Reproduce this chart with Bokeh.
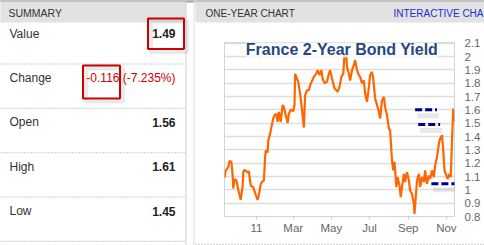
import pandas as pd
from bokeh.plotting import figure
from bokeh.layouts import row, column
from bokeh.models import (Range1d, FixedTicker, NumeralTickFormatter, Label,
                          Arrow, ColumnDataSource)
from bokeh.core.properties import value
from bokeh.embed import file_html
from bokeh.resources import INLINE

FONT = "Liberation Sans"
GF = value(FONT)

# ---------------- data ----------------
summary_labels = ["Value", "Change", "Open", "High", "Low"]
summary_values = ["1.49", "-0.116 (-7.235%)", "1.56", "1.61", "1.45"]
summary_colors = ["#222222", "#cc0000", "#222222", "#222222", "#222222"]
summary_weight = ["bold", "normal", "bold", "bold", "bold"]

dates = [
    "2010-11-11", "2010-11-13", "2010-11-17", "2010-11-19", "2010-11-22", "2010-11-24",
    "2010-11-25", "2010-11-27", "2010-11-30", "2010-12-03", "2010-12-07", "2010-12-10",
    "2010-12-11", "2010-12-13", "2010-12-18", "2010-12-20", "2010-12-23", "2010-12-27",
    "2010-12-30", "2011-01-03", "2011-01-05", "2011-01-08", "2011-01-11", "2011-01-13",
    "2011-01-15", "2011-01-16", "2011-01-19", "2011-01-20", "2011-01-23", "2011-01-25",
    "2011-01-28", "2011-01-30", "2011-02-02", "2011-02-04", "2011-02-06", "2011-02-09",
    "2011-02-12", "2011-02-14", "2011-02-17", "2011-02-20", "2011-02-22", "2011-02-25",
    "2011-03-01", "2011-03-03", "2011-03-04", "2011-03-09", "2011-03-12", "2011-03-15",
    "2011-03-18", "2011-03-20", "2011-03-23", "2011-03-26", "2011-03-28", "2011-04-03",
    "2011-04-07", "2011-04-09", "2011-04-12", "2011-04-15", "2011-04-17", "2011-04-20",
    "2011-04-24", "2011-04-27", "2011-04-29", "2011-05-02", "2011-05-06", "2011-05-09",
    "2011-05-11", "2011-05-14", "2011-05-17", "2011-05-20", "2011-05-22", "2011-05-25",
    "2011-05-26", "2011-05-29", "2011-05-31", "2011-06-03", "2011-06-06", "2011-06-08",
    "2011-06-11", "2011-06-14", "2011-06-16", "2011-06-19", "2011-06-22", "2011-06-24",
    "2011-06-27", "2011-06-30", "2011-07-02", "2011-07-05", "2011-07-07", "2011-07-10",
    "2011-07-13", "2011-07-16", "2011-07-18", "2011-07-21", "2011-07-24", "2011-07-26",
    "2011-07-29", "2011-08-01", "2011-08-03", "2011-08-06", "2011-08-08", "2011-08-10",
    "2011-08-13", "2011-08-15", "2011-08-18", "2011-08-20", "2011-08-22", "2011-08-25",
    "2011-08-27", "2011-08-30", "2011-09-02", "2011-09-04", "2011-09-07", "2011-09-10",
    "2011-09-11", "2011-09-13", "2011-09-15", "2011-09-18", "2011-09-20", "2011-09-23",
    "2011-09-26", "2011-09-28", "2011-10-01", "2011-10-04", "2011-10-06", "2011-10-09",
    "2011-10-12", "2011-10-14", "2011-10-17", "2011-10-20", "2011-10-22", "2011-10-25",
    "2011-10-27", "2011-10-29", "2011-11-01", "2011-11-03", "2011-11-06", "2011-11-08",
    "2011-11-10", "2011-11-12", "2011-11-13",
]
yields = [
    1.09, 1.146, 1.17, 1.216, 1.21, 1.11,
    1.01, 1.08, 1.07, 1.00, 0.925, 1.03,
    1.13, 1.15, 1.13, 1.14, 1.03, 1.02,
    0.975, 0.925, 0.96, 1.045, 1.065, 1.07,
    1.245, 1.296, 1.28, 1.37, 1.42, 1.47,
    1.535, 1.56, 1.57, 1.51, 1.585, 1.51,
    1.635, 1.62, 1.56, 1.50, 1.57, 1.60,
    1.59, 1.635, 1.87, 1.81, 1.72, 1.60,
    1.467, 1.71, 1.747, 1.747, 1.785, 1.847,
    1.873, 1.897, 1.86, 1.897, 1.835, 1.80,
    1.81, 1.87, 1.897, 1.835, 1.76, 1.747,
    1.735, 1.772, 1.847, 1.87, 2.01, 1.998,
    1.92, 1.87, 1.82, 1.897, 1.935, 1.973,
    1.897, 1.86, 1.847, 1.80, 1.82, 1.72,
    1.66, 1.77, 1.86, 1.885, 1.835, 1.685,
    1.635, 1.585, 1.535, 1.672, 1.697, 1.62,
    1.56, 1.46, 1.447, 1.22, 1.146, 1.21,
    1.02, 1.095, 1.033, 0.945, 1.02, 1.12,
    1.058, 1.133, 1.07, 0.995, 0.97, 0.895,
    0.82, 0.945, 1.07, 1.12, 1.02, 1.095,
    1.058, 1.146, 1.045, 1.108, 1.083, 1.146,
    1.095, 1.183, 1.246, 1.347, 1.384, 1.41,
    1.296, 1.146, 1.108, 1.083, 1.12, 1.095,
    1.37, 1.61, 1.51,
]

x_tick_dates = ["2011-01-01", "2011-03-01", "2011-05-01", "2011-07-01", "2011-09-01", "2011-11-01"]
x_tick_labels = ["11", "Mar", "May", "Jul", "Sep", "Nov"]
y_ticks = [0.8, 0.9, 1.0, 1.1, 1.2, 1.3, 1.4, 1.5, 1.6, 1.7, 1.8, 1.9, 2.0, 2.1]

marker_levels = [1.60, 1.49, 1.045]
marker_starts = ["2011-09-12", "2011-09-17", "2011-10-08"]
marker_ends = ["2011-10-17", "2011-10-22", "2011-12-09"]

chart_title = "France 2-Year Bond Yield"


def ms(s):
    return pd.Timestamp(s).value / 1e6


# ---------------- left summary panel ----------------
left = figure(width=195, height=245, x_range=Range1d(0, 195), y_range=Range1d(245, 0),
              toolbar_location=None, output_backend="svg", x_axis_type=None,
              y_axis_type=None, min_border=0, outline_line_color=None,
              background_fill_color="white", border_fill_color="white",
              frame_align=False)
left.grid.visible = False

left.quad(left=[0], right=[195], top=[0], bottom=[1.5], color="#a0a0a0")
left.quad(left=[0], right=[185], top=[1.5], bottom=[21.5], color="#e2e2e2")
left.segment(x0=[185.5, 193.5], y0=[0, 0], x1=[185.5, 193.5], y1=[245, 245],
             line_color=["#d0d0d0", "#dddddd"], line_width=1)
left.text(x=[8], y=[12.5], text=["SUMMARY"], text_font=GF, text_font_size="10.5px",
          text_color="#333333", text_baseline="middle")

row_lines = [63.5, 107.8, 152.2, 196.5, 240.8]
left.segment(x0=[0] * 5, y0=row_lines, x1=[184] * 5, y1=row_lines,
             line_color="#9a9a9a", line_dash="1 2", line_width=1)
text_y = [r - 30.3 for r in row_lines]
left.text(x=[9] * 5, y=text_y, text=summary_labels, text_font=GF, text_font_size="12px",
          text_color="#333333", text_baseline="middle")
vsrc = ColumnDataSource(dict(x=[175] * 5, y=text_y, t=summary_values, c=summary_colors,
                             w=summary_weight))
left.text(x="x", y="y", text="t", source=vsrc, text_font=GF, text_font_size="12px",
          text_color="c", text_font_style="w", text_align="right", text_baseline="middle")

# red highlight boxes with soft shadow
for (l, r, t, b) in [(147.5, 183.5, 18, 48.5), (82.5, 119.5, 65, 98)]:
    left.quad(left=[l + 3], right=[r + 3], top=[t + 3], bottom=[b + 3], fill_color=None,
              line_color="#888888", line_alpha=0.18, line_width=4)
    left.quad(left=[l], right=[r], top=[t], bottom=[b], fill_color=None,
              line_color="#cc0000", line_width=2)

# ---------------- right header ----------------
head = figure(width=289, height=34, x_range=Range1d(0, 289), y_range=Range1d(34, 0),
              toolbar_location=None, output_backend="svg", x_axis_type=None,
              y_axis_type=None, min_border=0, outline_line_color=None,
              border_fill_color="white", frame_align=False)
head.grid.visible = False
head.quad(left=[0], right=[289], top=[0], bottom=[1.5], color="#a0a0a0")
head.quad(left=[0], right=[289], top=[1.5], bottom=[21.5], color="#e2e2e2")
head.text(x=[10], y=[12.5], text=["ONE-YEAR CHART"], text_font=GF, text_font_size="10px",
          text_color="#333333", text_baseline="middle")
head.text(x=[198], y=[12.5], text=["INTERACTIVE CHART"], text_font=GF, text_font_size="10px",
          text_color="#1a2fd0", text_baseline="middle")

# ---------------- chart ----------------
chart = figure(width=289, height=202, x_axis_type="datetime", y_axis_location="right",
               x_range=Range1d(ms("2010-11-11"), ms("2011-11-14")),
               y_range=Range1d(0.8, 2.105),
               toolbar_location=None, output_backend="svg",
               min_border_left=29, min_border_right=30, min_border_top=8,
               min_border_bottom=20, outline_line_color="#d4d4d4",
               border_fill_color="white", frame_align=False)
chart.xgrid.visible = False
chart.ygrid.grid_line_color = "#dddddd"
chart.ygrid.grid_line_width = 1.3

chart.yaxis.ticker = FixedTicker(ticks=y_ticks)
chart.yaxis.formatter = NumeralTickFormatter(format="0.[0]")
chart.yaxis.axis_line_color = None
chart.yaxis.major_tick_line_color = None
chart.yaxis.minor_tick_line_color = None
chart.yaxis.major_label_standoff = 4
chart.yaxis.major_label_text_font = FONT
chart.yaxis.major_label_text_font_size = "11.5px"
chart.yaxis.major_label_text_color = "#666666"

xt = [ms(d) for d in x_tick_dates]
chart.xaxis.ticker = FixedTicker(ticks=xt)
chart.xaxis.major_label_overrides = {t: lab for t, lab in zip(xt, x_tick_labels)}
chart.xaxis.axis_line_color = "#d4d4d4"
chart.xaxis.major_tick_line_color = "#cccccc"
chart.xaxis.major_tick_in = 0
chart.xaxis.major_tick_out = 3
chart.xaxis.minor_tick_line_color = None
chart.xaxis.major_label_standoff = 2
chart.xaxis.major_label_text_font = FONT
chart.xaxis.major_label_text_font_size = "11.5px"
chart.xaxis.major_label_text_color = "#666666"

chart.line(x=pd.to_datetime(dates), y=yields, line_color="#ff6600", line_width=2.2)

chart.add_layout(Label(x=ms("2011-05-18"), y=2.056, text=chart_title, text_font=FONT,
                       text_font_size="16px", text_font_style="bold",
                       text_color="#27477e", text_align="center", text_baseline="middle",
                       background_fill_color="white", background_fill_alpha=0.75))

for lev, s, e in zip(marker_levels, marker_starts, marker_ends):
    chart.add_layout(Arrow(end=None, x_start=ms(s) + 3 * 86400000, x_end=ms(e) + 3 * 86400000,
                           y_start=lev - 0.045, y_end=lev - 0.045, line_color="#999999",
                           line_alpha=0.22, line_width=5))
    chart.add_layout(Arrow(end=None, x_start=ms(s), x_end=ms(e), y_start=lev, y_end=lev,
                           line_color="#000080", line_width=3, line_dash="7 3"))

# ---------------- footer ----------------
foot = figure(width=289, height=9, x_range=Range1d(0, 289), y_range=Range1d(9, 0),
              toolbar_location=None, output_backend="svg", x_axis_type=None,
              y_axis_type=None, min_border=0, outline_line_color=None,
              border_fill_color="white", frame_align=False)
foot.grid.visible = False
foot.segment(x0=[0], y0=[4.8], x1=[289], y1=[4.8], line_color="#9a9a9a",
             line_dash="1 2", line_width=1)

layout = row(left, column(head, chart, foot, spacing=0), spacing=0)
open("out.html", "w").write(file_html(layout, INLINE))
